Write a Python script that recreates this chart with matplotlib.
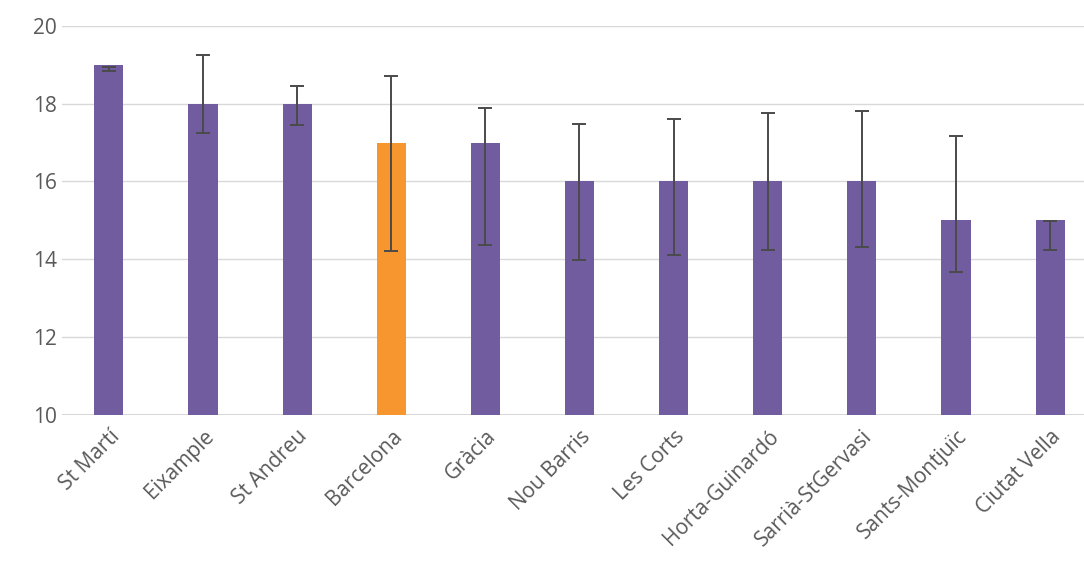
import matplotlib
matplotlib.use("Agg")
import matplotlib.pyplot as plt
import numpy as np

categories = ["St Martí", "Eixample", "St Andreu", "Barcelona", "Gràcia", "Nou Barris",
              "Les Corts", "Horta-Guinardó", "Sarrià-StGervasi", "Sants-Montjuïc", "Ciutat Vella"]
values = [19, 18, 18, 17, 17, 16, 16, 16, 16, 15, 15]
err_high = [18.95, 19.25, 18.45, 18.72, 17.88, 17.48, 17.6, 17.75, 17.82, 17.18, 14.98]
err_low = [18.85, 17.25, 17.45, 14.22, 14.38, 13.98, 14.12, 14.25, 14.32, 13.68, 14.25]

plt.rcParams['font.family'] = ['Open Sans', 'DejaVu Sans']
fig = plt.figure(figsize=(10.84, 5.74), dpi=100)
ax = fig.add_axes([0.057, 0.277, 0.943, 0.678])
x = np.arange(len(categories))
colors = ['#F7962F' if c == "Barcelona" else '#715C9F' for c in categories]
ax.bar(x, [v - 10 for v in values], bottom=10, width=0.31, color=colors, zorder=2)
mid = [(h + l) / 2 for h, l in zip(err_high, err_low)]
half = [(h - l) / 2 for h, l in zip(err_high, err_low)]
ax.errorbar(x, mid, yerr=half, fmt='none', ecolor='#4a4a4a', elinewidth=1.4, capsize=5, capthick=1.4, zorder=3)
ax.set_ylim(10, 20)
ax.set_xlim(-0.5, 10.36)
ax.set_yticks([10, 12, 14, 16, 18, 20])
ax.grid(axis='y', color='#D9D9D9', linewidth=1, zorder=0)
for s in ax.spines.values():
    s.set_visible(False)
ax.axhline(10, color='#D0D0D0', linewidth=1.2, zorder=1)
ax.tick_params(length=0, labelsize=15, labelcolor='#595959')
ax.tick_params(axis='x', pad=8)
ax.set_xticks(x)
ax.set_xticklabels(categories, rotation=45, ha='right', rotation_mode='anchor')
fig.savefig("out.png")
